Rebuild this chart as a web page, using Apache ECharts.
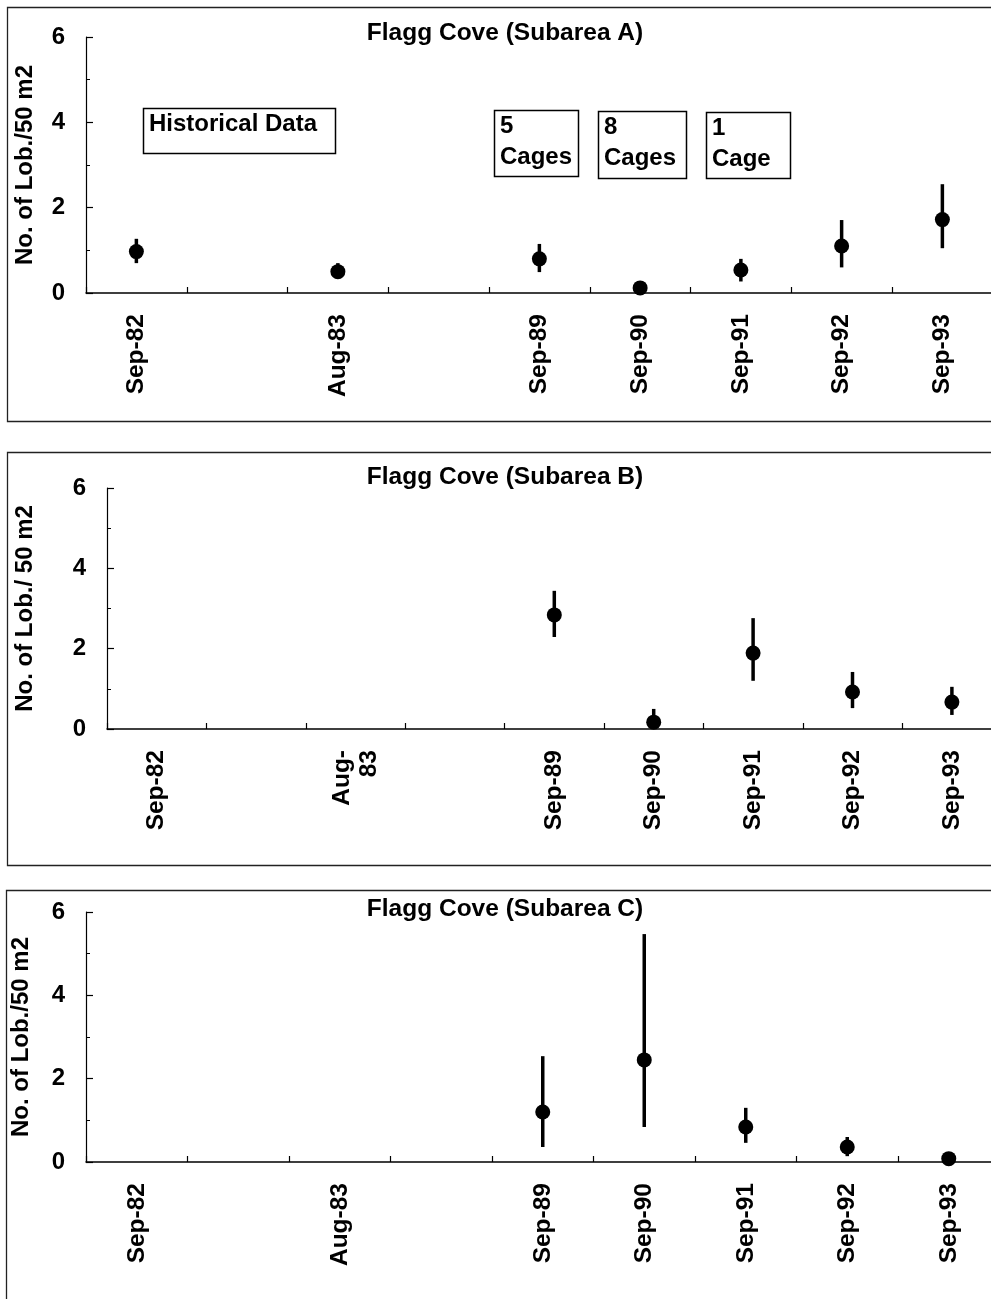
<!DOCTYPE html>
<html>
<head>
<meta charset="utf-8">
<script src="https://cdn.jsdelivr.net/npm/echarts@6/dist/echarts.min.js"></script>
<style>
  html, body { margin: 0; padding: 0; background: #fff; overflow: hidden; }
  #chart { width: 991px; height: 1299px; }
</style>
</head>
<body>
<div id="chart"></div>
<script>
// Survey dates (blank slots keep the gap between 1983 and 1989)
const categories  = ['Sep-82', '', 'Aug-83', '', 'Sep-89', 'Sep-90', 'Sep-91', 'Sep-92', 'Sep-93'];
const categoriesB = ['Sep-82', '', 'Aug-\n83', '', 'Sep-89', 'Sep-90', 'Sep-91', 'Sep-92', 'Sep-93'];

const titles = ['Flagg Cove (Subarea A)', 'Flagg Cove (Subarea B)', 'Flagg Cove (Subarea C)'];
const yNames = ['No. of Lob./50 m2', 'No. of Lob./ 50 m2', 'No. of Lob./50 m2'];

// y axis: 0 to 6, labelled every 2
const yMin = 0, yMax = 6, yStep = 2;

// Lobster density, mean with lower / upper error limits
const meanA = [0.97, null, 0.50, null, 0.80, 0.12, 0.54, 1.10, 1.72];
const lowA  = [0.70, null, 0.35, null, 0.49, 0.07, 0.27, 0.60, 1.05];
const highA = [1.27, null, 0.70, null, 1.15, 0.17, 0.80, 1.71, 2.55];

const meanB = [null, null, null, null, 2.84, 0.17, 1.89, 0.92, 0.67];
const lowB  = [null, null, null, null, 2.29, 0.00, 1.20, 0.52, 0.35];
const highB = [null, null, null, null, 3.44, 0.50, 2.76, 1.42, 1.05];

const meanC = [null, null, null, null, 1.20, 2.45, 0.84, 0.36, 0.08];
const lowC  = [null, null, null, null, 0.36, 0.84, 0.46, 0.14, 0.08];
const highC = [null, null, null, null, 2.54, 5.47, 1.30, 0.60, 0.08];

// Notes drawn inside the first panel
const notes = ['Historical Data', '5\nCages', '8\nCages', '1\nCage'];

const FONT = '"Liberation Sans", Arial, sans-serif';

const panels = [
  { cats: categories,  mean: meanA, low: lowA, high: highA,
    grid: { left: 86,  top: 37,  width: 906.75, height: 256 }, nameGap: 49,
    frame: { x: 7, y: 7,   w: 1010, h: 414 }, titleY: 33 },
  { cats: categoriesB, mean: meanB, low: lowB, high: highB,
    grid: { left: 107, top: 488, width: 894.6,  height: 241 }, nameGap: 70,
    frame: { x: 7, y: 452, w: 1010, h: 413 }, titleY: 477 },
  { cats: categories,  mean: meanC, low: lowC, high: highC,
    grid: { left: 86,  top: 912, width: 913.5,  height: 250 }, nameGap: 53,
    frame: { x: 6, y: 890, w: 1010, h: 430 }, titleY: 909 }
];

const grids = [], xAxes = [], yAxes = [], series = [], graphics = [];

panels.forEach((p, i) => {
  // keep the plot rectangle exactly where it is set, even if it runs past the edge
  grids.push(Object.assign({ containLabel: false, outerBoundsMode: 'none' }, p.grid));

  xAxes.push({
    type: 'category', gridIndex: i, data: p.cats, boundaryGap: true,
    axisLine: { lineStyle: { color: '#000', width: 1.5 } },
    axisTick: { show: true, inside: true, length: 6, interval: 0,
                lineStyle: { color: '#000', width: 1.2 } },
    axisLabel: { interval: 0, rotate: 90, margin: 21, color: '#000',
                 fontFamily: FONT, fontWeight: 'bold', fontSize: 24.5, lineHeight: 27 },
    splitLine: { show: false }
  });

  yAxes.push({
    type: 'value', gridIndex: i, min: yMin, max: yMax, interval: yStep,
    name: yNames[i], nameLocation: 'middle', nameGap: p.nameGap, nameRotate: 90,
    nameTextStyle: { color: '#000', fontFamily: FONT, fontWeight: 'bold', fontSize: 24 },
    axisLine: { show: true, lineStyle: { color: '#000', width: 1.2 } },
    axisTick: { show: true, inside: true, length: 7, lineStyle: { color: '#000', width: 1.2 } },
    minorTick: { show: true, splitNumber: 2, length: 4, lineStyle: { color: '#000', width: 1 } },
    axisLabel: { margin: 21, color: '#000', fontFamily: FONT, fontWeight: 'bold', fontSize: 24 },
    splitLine: { show: false }
  });

  // vertical error bars
  series.push({
    type: 'custom', xAxisIndex: i, yAxisIndex: i, z: 2,
    data: p.mean.map((v, k) => v == null ? null : [k, p.low[k], p.high[k]]).filter(Boolean),
    encode: { x: 0, y: [1, 2] },
    renderItem: (params, api) => {
      const a = api.coord([api.value(0), api.value(1)]);
      const b = api.coord([api.value(0), api.value(2)]);
      return { type: 'line', shape: { x1: a[0], y1: a[1], x2: b[0], y2: b[1] },
               style: { stroke: '#000', lineWidth: 3.5 } };
    }
  });

  // mean markers
  series.push({
    type: 'scatter', xAxisIndex: i, yAxisIndex: i, z: 3,
    symbol: 'circle', symbolSize: 15,
    itemStyle: { color: '#000', opacity: 1 },
    data: p.mean.map((v, k) => v == null ? null : [k, v]).filter(Boolean)
  });

  // panel frame
  graphics.push({
    type: 'rect', silent: true, z: 0,
    shape: { x: p.frame.x + 0.5, y: p.frame.y + 0.5, width: p.frame.w, height: p.frame.h },
    style: { fill: null, stroke: '#222', lineWidth: 1.3 }
  });

  // panel title
  graphics.push({
    type: 'text', silent: true, x: 505, y: p.titleY,
    style: { text: titles[i], fill: '#000', font: 'bold 24.5px ' + FONT,
             align: 'center', verticalAlign: 'middle' }
  });
});

// note boxes in the first panel
const noteBoxes = [
  { x: 143, y: 108, w: 192, h: 45 },
  { x: 494, y: 110, w: 84,  h: 66 },
  { x: 598, y: 111, w: 88,  h: 67 },
  { x: 706, y: 112, w: 84,  h: 66 }
];
notes.forEach((t, k) => {
  const b = noteBoxes[k];
  graphics.push({
    type: 'rect', silent: true,
    shape: { x: b.x + 0.5, y: b.y + 0.5, width: b.w, height: b.h },
    style: { fill: '#fff', stroke: '#000', lineWidth: 1.5 }
  });
  graphics.push({
    type: 'text', silent: true, x: b.x + 6, y: b.y + 1,
    style: { text: t, fill: '#000', font: 'bold 24px ' + FONT,
             lineHeight: 31, align: 'left', verticalAlign: 'top' }
  });
});

const chart = echarts.init(document.getElementById('chart'), null, { renderer: 'canvas' });
chart.setOption({
  animation: false,
  backgroundColor: '#fff',
  grid: grids,
  xAxis: xAxes,
  yAxis: yAxes,
  series: series,
  graphic: graphics
});
</script>
</body>
</html>
